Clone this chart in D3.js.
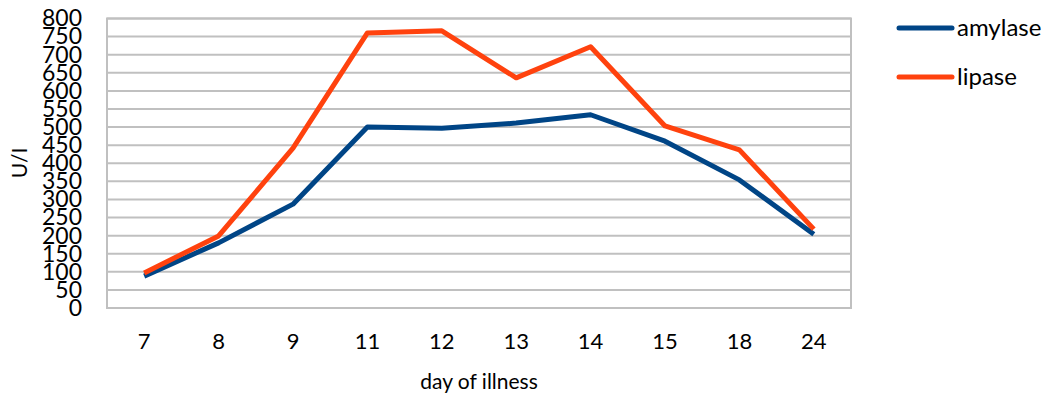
<!DOCTYPE html>
<html><head><meta charset="utf-8">
<script src="https://cdn.jsdelivr.net/npm/d3@7"></script>
<style>body{margin:0;background:#fff;} text{font-family:Lato,"Open Sans",sans-serif;fill:#000;}</style>
</head><body>
<svg id="c" width="1052" height="396"></svg>
<script>
const categories = ["7","8","9","11","12","13","14","15","18","24"];
const amylase = [88,180,287,500,497,511,534,461,354,204];
const lipase = [97,199,442,760,766,636,722,503,437,218];
const yTicks = d3.range(0,801,50);
const seriesNames = ["amylase","lipase"];
const colors = ["#004586","#ff420e"];

const svg = d3.select("#c");
const m = {l:107, r:851, t:18.5, b:308};
const x = d3.scaleBand().domain(categories).range([m.l,m.r]);
const y = d3.scaleLinear().domain([0,800]).range([m.b,m.t]);

svg.append("g").selectAll("line").data(yTicks).join("line")
  .attr("x1",m.l).attr("x2",m.r).attr("y1",d=>y(d)).attr("y2",d=>y(d))
  .attr("stroke","#c0c0c0").attr("stroke-width",2);
svg.append("rect").attr("x",m.l).attr("y",m.t).attr("width",m.r-m.l).attr("height",m.b-m.t)
  .attr("fill","none").attr("stroke","#c0c0c0").attr("stroke-width",2);

const ya = svg.append("g").attr("transform",`translate(${m.l},0)`)
  .call(d3.axisLeft(y).tickValues(yTicks).tickSize(0).tickPadding(25));
ya.select(".domain").remove();
ya.selectAll("text").style("font-size","23px");

const xa = svg.append("g").attr("transform",`translate(0,${m.b})`)
  .call(d3.axisBottom(x).tickSize(0).tickPadding(25));
xa.select(".domain").remove();
xa.selectAll("text").style("font-size","22px");

svg.append("text").attr("x",(m.l+m.r)/2).attr("y",389).attr("text-anchor","middle")
  .style("font-size","21px").text("day of illness");
svg.append("text").attr("transform","translate(27,163) rotate(-90)").attr("text-anchor","middle")
  .style("font-size","21px").text("U/I");

const line = d3.line().x((d,i)=>x(categories[i])+x.bandwidth()/2).y(d=>y(d));
[amylase,lipase].forEach((s,k)=>{
  svg.append("path").datum(s).attr("d",line).attr("fill","none")
    .attr("stroke",colors[k]).attr("stroke-width",5).attr("stroke-linejoin","round");
});

seriesNames.forEach((n,k)=>{
  const ly = 28 + k*49;
  svg.append("line").attr("x1",899).attr("x2",952).attr("y1",ly).attr("y2",ly)
    .attr("stroke",colors[k]).attr("stroke-width",5).attr("stroke-linecap","round");
  svg.append("text").attr("x",957).attr("y",ly+8).style("font-size","24px").text(n);
});
</script>
</body></html>
